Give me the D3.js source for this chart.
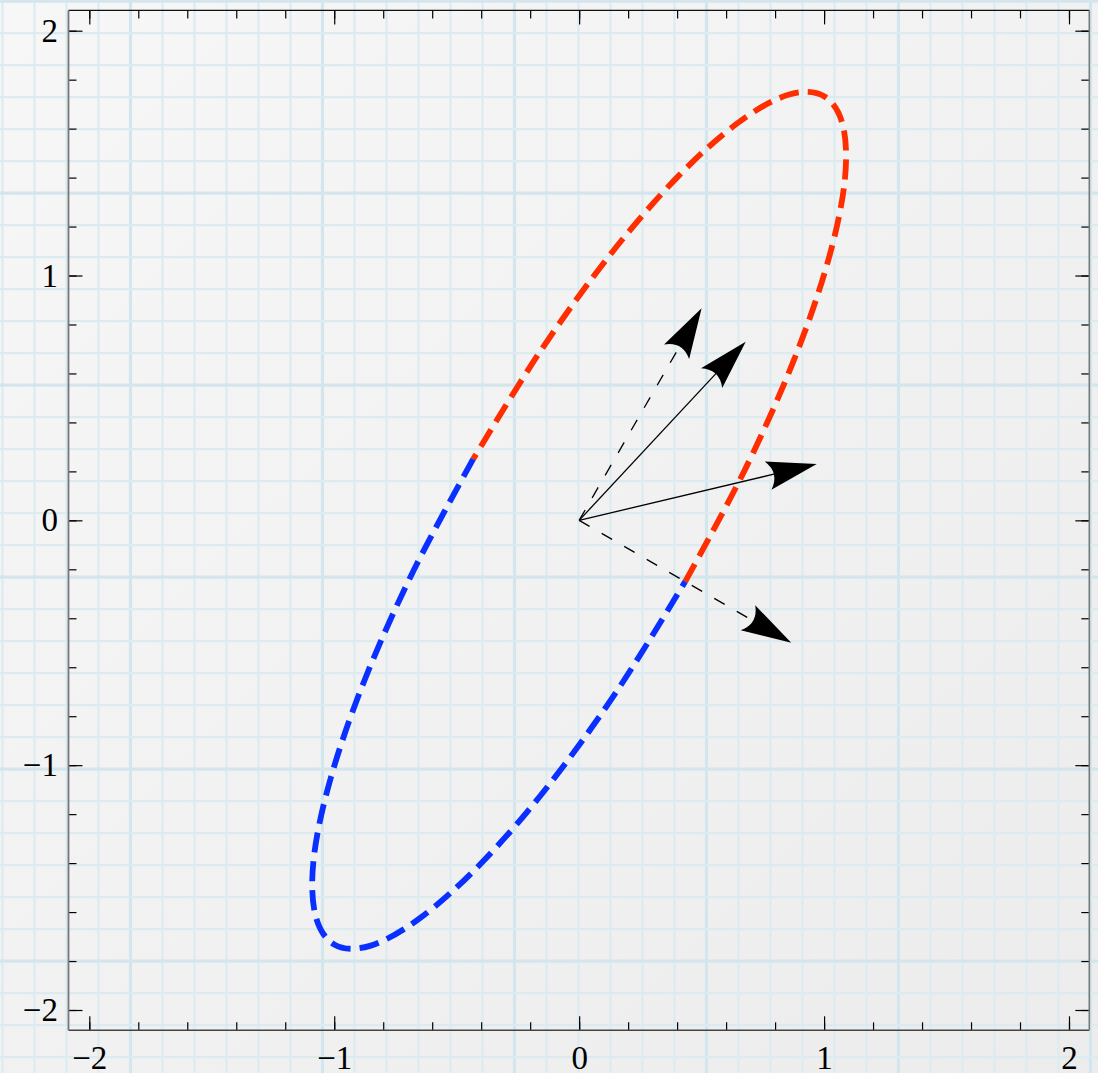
<!DOCTYPE html>
<html>
<head>
<meta charset="utf-8">
<script src="https://cdn.jsdelivr.net/npm/d3@7"></script>
<style>
  html, body { margin: 0; padding: 0; background: #f2f2f2; }
  svg { display: block; }
  .lbl { font-family: "Liberation Serif", "DejaVu Serif", serif; }
</style>
</head>
<body>
<svg id="chart" width="1098" height="1073"></svg>
<script>
// ---- data ----
const majorTicks = [-2, -1, 0, 1, 2];
const minorTicks = [-2, -1.8, -1.6, -1.4, -1.2, -1, -0.8, -0.6, -0.4, -0.2, 0, 0.2, 0.4, 0.6, 0.8, 1, 1.2, 1.4, 1.6, 1.8, 2];
const tickLabels = ["\u22122", "\u22121", "0", "1", "2"];

// upper (red) half of the closed curve
const redHalf = [
  [0.433, -0.25], [0.677, 0.207], [0.875, 0.650], [1.013, 1.048], [1.083, 1.375],
  [1.078, 1.608], [1.0, 1.732], [0.854, 1.738], [0.650, 1.625], [0.401, 1.402],
  [0.125, 1.083], [-0.159, 0.690], [-0.433, 0.25]
];
// lower (blue) half
const blueHalf = [
  [-0.433, 0.25], [-0.677, -0.207], [-0.875, -0.650], [-1.013, -1.048], [-1.083, -1.375],
  [-1.078, -1.608], [-1.0, -1.732], [-0.854, -1.738], [-0.650, -1.625], [-0.401, -1.402],
  [-0.125, -1.083], [0.159, -0.690], [0.433, -0.25]
];
// vectors from the origin
const dashedVectors = [[0.5, 0.866], [0.866, -0.5]];
const solidVectors = [[0.68, 0.73], [0.97, 0.23]];

// ---- layout ----
const W = 1098, H = 1073;
const xRange = [-2.085, 2.083], yRange = [-2.083, 2.083];
const x = d3.scaleLinear().domain([-2, 2]).range([89.3, 1069]);
const y = d3.scaleLinear().domain([-2, 2]).range([1010, 30.7]);
const L = x(xRange[0]), R = x(xRange[1]), T = y(yRange[1]), B = y(yRange[0]);

const svg = d3.select("#chart");
const defs = svg.append("defs");

// background paper
const bg = defs.append("linearGradient").attr("id", "paper")
  .attr("x1", 0).attr("y1", 0).attr("x2", 1).attr("y2", 1);
bg.append("stop").attr("offset", "0%").attr("stop-color", "#f7f7f7");
bg.append("stop").attr("offset", "100%").attr("stop-color", "#ececec");
svg.append("rect").attr("width", W).attr("height", H).attr("fill", "url(#paper)");

defs.append("filter").attr("id", "soft").attr("x", "-5%").attr("y", "-5%").attr("width", "110%").attr("height", "110%")
  .append("feGaussianBlur").attr("stdDeviation", 0.6);

const grid = svg.append("g").attr("filter", "url(#soft)");
const step = 32;
d3.range(0, 35).forEach(i => {
  const gx = 2.5 + i * step;
  const major = (i % 6) === 4;
  grid.append("line").attr("x1", gx).attr("x2", gx).attr("y1", 0).attr("y2", H)
    .attr("stroke", major ? "#d3e6ed" : "#dcebf0").attr("stroke-width", major ? 3.2 : 2.2);
});
d3.range(0, 34).forEach(i => {
  const gy = 1.2 + i * step;
  const major = (i % 6) === 0;
  grid.append("line").attr("x1", 0).attr("x2", W).attr("y1", gy).attr("y2", gy)
    .attr("stroke", major ? "#d3e6ed" : "#dcebf0").attr("stroke-width", major ? 3.2 : 2.2);
});

// ---- curves ----
const line = d3.line().x(d => x(d[0])).y(d => y(d[1])).curve(d3.curveCatmullRom.alpha(0));
svg.append("path").datum(redHalf).attr("d", line)
  .attr("fill", "none").attr("stroke", "#ff2e00").attr("stroke-width", 5.8)
  .attr("stroke-dasharray", "20,9");
svg.append("path").datum(blueHalf).attr("d", line)
  .attr("fill", "none").attr("stroke", "#0a30ff").attr("stroke-width", 5.8)
  .attr("stroke-dasharray", "20,9");

// ---- arrows ----
function arrow(v, dashed) {
  const x0 = x(0), y0 = y(0), x1 = x(v[0]), y1 = y(v[1]);
  const dx = x1 - x0, dy = y1 - y0, len = Math.hypot(dx, dy);
  const ux = dx / len, uy = dy / len, nx = -uy, ny = ux;
  const hl = 50, hw = 14.5;
  svg.append("line")
    .attr("x1", x0).attr("y1", y0)
    .attr("x2", x1 - ux * (hl - 8)).attr("y2", y1 - uy * (hl - 8))
    .attr("stroke", "#000").attr("stroke-width", 1.3)
    .attr("stroke-dasharray", dashed ? "12,14" : null);
  const bx = x1 - ux * hl, by = y1 - uy * hl;
  const cx = x1 - ux * (hl - 12), cy = y1 - uy * (hl - 12);
  const p = d3.path();
  p.moveTo(x1, y1);
  p.lineTo(bx + nx * hw, by + ny * hw);
  p.quadraticCurveTo(cx, cy, bx - nx * hw, by - ny * hw);
  p.closePath();
  svg.append("path").attr("d", p.toString()).attr("fill", "#000");
}
dashedVectors.forEach(v => arrow(v, true));
solidVectors.forEach(v => arrow(v, false));

// ---- frame and axes ----
function styleAxis(g) {
  g.attr("font-family", null).attr("font-size", null);
  g.select(".domain").remove();
  g.selectAll(".tick line").attr("stroke", "#000").attr("stroke-width", 1.2);
  g.selectAll("text").attr("class", "lbl")
    .style("font-family", "'Liberation Serif', 'DejaVu Serif', serif")
    .style("font-size", "33px").attr("fill", "#000");
}
const fmt = (d) => tickLabels[majorTicks.indexOf(d)];

// bottom
svg.append("g").attr("transform", `translate(0,${B})`)
  .call(d3.axisBottom(x).tickValues(minorTicks).tickSizeInner(-8).tickSizeOuter(0).tickFormat(""))
  .call(styleAxis);
svg.append("g").attr("transform", `translate(0,${B})`)
  .call(d3.axisBottom(x).tickValues(majorTicks).tickSizeInner(-14).tickSizeOuter(0).tickPadding(15).tickFormat(fmt))
  .call(styleAxis);
// top
svg.append("g").attr("transform", `translate(0,${T})`)
  .call(d3.axisTop(x).tickValues(minorTicks).tickSizeInner(-8).tickSizeOuter(0).tickFormat(""))
  .call(styleAxis);
svg.append("g").attr("transform", `translate(0,${T})`)
  .call(d3.axisTop(x).tickValues(majorTicks).tickSizeInner(-14).tickSizeOuter(0).tickFormat(""))
  .call(styleAxis);
// left
svg.append("g").attr("transform", `translate(${L},0)`)
  .call(d3.axisLeft(y).tickValues(minorTicks).tickSizeInner(-8).tickSizeOuter(0).tickFormat(""))
  .call(styleAxis);
svg.append("g").attr("transform", `translate(${L},0)`)
  .call(d3.axisLeft(y).tickValues(majorTicks).tickSizeInner(-14).tickSizeOuter(0).tickPadding(10.5).tickFormat(fmt))
  .call(styleAxis);
// right
svg.append("g").attr("transform", `translate(${R},0)`)
  .call(d3.axisRight(y).tickValues(minorTicks).tickSizeInner(-8).tickSizeOuter(0).tickFormat(""))
  .call(styleAxis);
svg.append("g").attr("transform", `translate(${R},0)`)
  .call(d3.axisRight(y).tickValues(majorTicks).tickSizeInner(-14).tickSizeOuter(0).tickFormat(""))
  .call(styleAxis);

// frame edges
svg.append("line").attr("x1", L).attr("x2", R).attr("y1", T).attr("y2", T).attr("stroke", "#111").attr("stroke-width", 1.2);
svg.append("line").attr("x1", L).attr("x2", R).attr("y1", B).attr("y2", B).attr("stroke", "#444").attr("stroke-width", 1.4);
svg.append("line").attr("x1", L).attr("x2", L).attr("y1", T).attr("y2", B).attr("stroke", "#777").attr("stroke-width", 1.8);
svg.append("line").attr("x1", R).attr("x2", R).attr("y1", T).attr("y2", B).attr("stroke", "#777").attr("stroke-width", 1.6);
</script>
</body>
</html>
